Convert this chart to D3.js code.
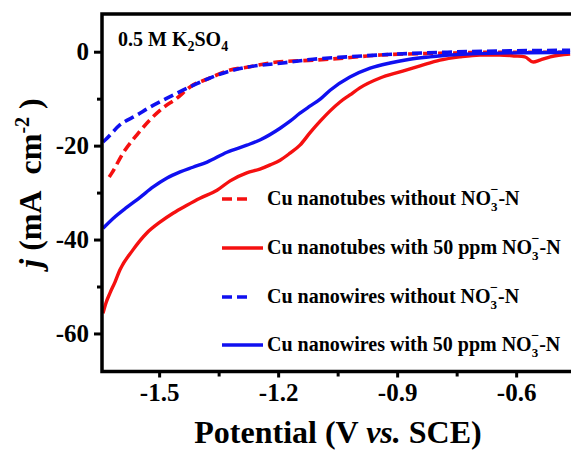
<!DOCTYPE html>
<html>
<head>
<meta charset="utf-8">
<script src="https://cdn.jsdelivr.net/npm/d3@7"></script>
<style>
  body { margin: 0; background: #fff; }
  svg { display: block; }
  text { font-family: "Liberation Serif", "Times New Roman", serif; font-weight: bold; fill: #000; }
</style>
</head>
<body>
<div id="chart"></div>
<script>
// Potential (V vs. SCE) and current density j (mA cm-2).
const tubesWithV = [-1.6415, -1.634, -1.624, -1.611, -1.599, -1.566, -1.531, -1.498, -1.465, -1.430,
  -1.397, -1.354, -1.321, -1.279, -1.246, -1.220, -1.195, -1.170,
  -1.145, -1.120, -1.094, -1.069, -1.044, -1.019, -0.994, -0.943, -0.893, -0.842, -0.792, -0.742,
  -0.691, -0.641, -0.603, -0.578, -0.557, -0.540, -0.514, -0.464];
const tubesWithJ = [-55.7, -53.5, -51.4, -49.0, -46.5, -42.2, -38.6, -36.3, -34.4, -32.7,
  -31.2, -29.5, -27.5, -25.8, -25.0, -24.1, -23.1, -21.6,
  -19.9, -17.3, -14.8, -12.6, -10.7, -9.2, -7.7, -5.6, -4.3, -3.0, -1.8, -1.1,
  -0.7, -0.7, -0.9, -1.1, -2.2, -1.8, -1.1, -0.5];

const wiresWithV = [-1.6415, -1.616, -1.581, -1.548, -1.515, -1.480, -1.447, -1.415, -1.379,
  -1.329, -1.279, -1.246, -1.195, -1.170, -1.145, -1.120, -1.094, -1.069, -1.019, -0.968, -0.918,
  -0.868, -0.817, -0.767, -0.641, -0.464];
const wiresWithJ = [-37.6, -35.5, -33.1, -31.0, -28.8, -26.9, -25.6, -24.6, -23.5,
  -21.4, -19.9, -18.8, -16.3, -14.8, -13.1, -11.6, -10.1, -8.2, -5.4, -3.5, -2.4,
  -1.6, -1.1, -0.7, -0.3, -0.1];

const tubesWithoutV = [-1.626, -1.619, -1.591, -1.556, -1.523, -1.491, -1.455, -1.422, -1.372, -1.321,
  -1.279, -1.203, -1.112, -1.026, -0.943, -0.767, -0.641, -0.464];
const tubesWithoutJ = [-26.7, -25.8, -21.6, -17.7, -14.5, -12.0, -9.9, -7.5, -5.6, -3.9,
  -3.3, -2.2, -1.8, -1.3, -0.7, -0.3, -0.1, -0.1];

const wiresWithoutV = [-1.6415, -1.636, -1.599, -1.556, -1.523, -1.480, -1.440, -1.397, -1.329, -1.279,
  -1.188, -1.112, -1.026, -0.900, -0.774, -0.464];
const wiresWithoutJ = [-19.2, -18.8, -15.6, -13.5, -11.8, -9.9, -8.2, -6.5, -4.3, -3.3,
  -2.4, -1.6, -1.1, -0.5, -0.1, 0.3];

const xMajorTicks = [-1.5, -1.2, -0.9, -0.6];
const xMinorTicks = [-1.35, -1.05, -0.75];
const yMajorTicks = [0, -20, -40, -60];
const yMinorTicks = [-10, -30, -50];

const legendNames = ["Cu nanotubes without ", "Cu nanotubes with 50 ppm ",
  "Cu nanowires without ", "Cu nanowires with 50 ppm "];

const W = 571, H = 450;
const plotLeft = 102, plotTop = 14, plotBottom = 371.5;

const svg = d3.select("#chart").append("svg")
  .attr("width", W)
  .attr("height", H);

const x = d3.scaleLinear().domain([-1.644, -0.45]).range([plotLeft, plotLeft + 396.7 * 1.194]);
const y = d3.scaleLinear().domain([-68.1, 8.03]).range([plotBottom, plotTop]);

svg.append("clipPath").attr("id", "clip")
  .append("rect")
  .attr("x", plotLeft).attr("y", plotTop)
  .attr("width", W - plotLeft + 10).attr("height", plotBottom - plotTop);

// Series in the order of the legend.
const series = [
  { v: tubesWithoutV, j: tubesWithoutJ, color: "#f51010", dash: "10,5" },
  { v: tubesWithV, j: tubesWithJ, color: "#f51010", dash: null },
  { v: wiresWithoutV, j: wiresWithoutJ, color: "#1010f0", dash: "10,5" },
  { v: wiresWithV, j: wiresWithJ, color: "#1010f0", dash: null }
];

const line = d3.line()
  .x(d => x(d[0]))
  .y(d => y(d[1]))
  .curve(d3.curveMonotoneX);

const plot = svg.append("g").attr("clip-path", "url(#clip)");
series.forEach(s => {
  plot.append("path")
    .datum(d3.zip(s.v, s.j))
    .attr("fill", "none")
    .attr("stroke", s.color)
    .attr("stroke-width", s.dash ? 3.6 : 3.4)
    .attr("stroke-dasharray", s.dash)
    .attr("d", line);
});

// Axes.
const xAxis = svg.append("g")
  .attr("transform", "translate(0," + plotBottom + ")")
  .call(d3.axisBottom(x).tickValues(xMajorTicks).tickSize(6).tickPadding(6)
    .tickFormat(d => d.toFixed(1)));
xAxis.append("g").call(d3.axisBottom(x).tickValues(xMinorTicks).tickSize(5).tickFormat(""));

const yAxis = svg.append("g")
  .attr("transform", "translate(" + plotLeft + ",0)")
  .call(d3.axisLeft(y).tickValues(yMajorTicks).tickSize(8).tickPadding(5)
    .tickFormat(d => String(d)));
yAxis.append("g").call(d3.axisLeft(y).tickValues(yMinorTicks).tickSize(5).tickFormat(""));

svg.selectAll(".domain").remove();
svg.selectAll(".tick line").attr("stroke", "#000").attr("stroke-width", 3);
svg.selectAll(".tick text")
  .attr("fill", "#000")
  .style("font-size", "25px");

// Frame (right side runs off the picture).
svg.append("path")
  .attr("d", "M" + (W + 5) + "," + plotTop + "H" + plotLeft + "V" + plotBottom + "H" + (W + 5))
  .attr("fill", "none")
  .attr("stroke", "#000")
  .attr("stroke-width", 3.5);

// Axis titles.
const xt = svg.append("text")
  .attr("x", 338).attr("y", 443)
  .attr("text-anchor", "middle")
  .style("font-size", "32px");
xt.append("tspan").text("Potential (V ");
xt.append("tspan").style("font-style", "italic").text("vs.");
xt.append("tspan").text(" SCE)");

const yt = svg.append("text")
  .attr("transform", "translate(41,183) rotate(-90)")
  .attr("text-anchor", "middle")
  .style("font-size", "32px");
yt.append("tspan").style("font-style", "italic").text("j");
yt.append("tspan").text(" (mA\u00a0\u00a0cm");
yt.append("tspan").attr("dy", -12).style("font-size", "20px").text("-2");
yt.append("tspan").attr("dy", 12).text(" )");

// Electrolyte note.
const note = svg.append("text")
  .attr("x", 118).attr("y", 46)
  .style("font-size", "20px");
note.append("tspan").text("0.5 M K");
note.append("tspan").attr("dy", 5).style("font-size", "14px").text("2");
note.append("tspan").attr("dy", -5).text("SO");
note.append("tspan").attr("dy", 5).style("font-size", "14px").text("4");

// Legend.
const legendY = [199, 248, 297, 345];
series.forEach((s, i) => {
  const g = svg.append("g");
  g.append("line")
    .attr("x1", 222).attr("x2", s.dash ? 250 : 263)
    .attr("y1", legendY[i]).attr("y2", legendY[i])
    .attr("stroke", s.color)
    .attr("stroke-width", 3.6)
    .attr("stroke-dasharray", s.dash);
  const t = g.append("text")
    .attr("x", 267).attr("y", legendY[i] + 6)
    .style("font-size", "20px");
  t.append("tspan").text(legendNames[i] + "NO");
  t.append("tspan").attr("dy", 6).style("font-size", "13px").text("3");
  t.append("tspan").attr("dx", -7).attr("dy", -17).style("font-size", "14px").text("\u2212");
  t.append("tspan").attr("dy", 11).text("-N");
});
</script>
</body>
</html>
